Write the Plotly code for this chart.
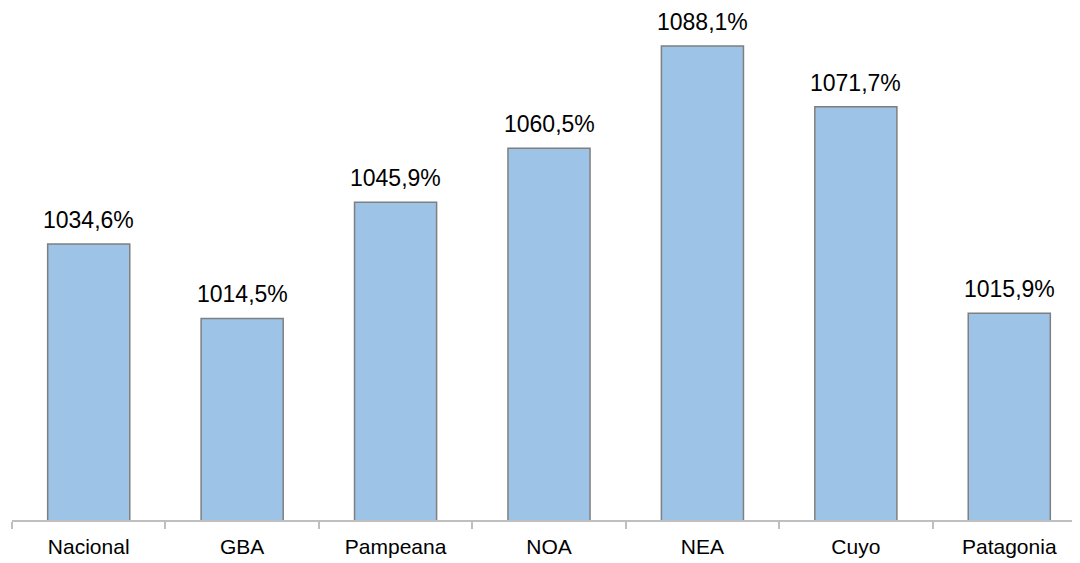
import plotly.graph_objects as go

categories = ["Nacional", "GBA", "Pampeana", "NOA", "NEA", "Cuyo", "Patagonia"]
values = [1034.6, 1014.5, 1045.9, 1060.5, 1088.1, 1071.7, 1015.9]
labels = [f"{v:.1f}".replace(".", ",") + "%" for v in values]

fig = go.Figure()
fig.add_trace(go.Bar(
    x=categories, y=values,
    marker=dict(color="#9DC3E6", line=dict(color="#7f7f7f", width=1.5)),
    hoverinfo="skip",
))
for c, v, t in zip(categories, values, labels):
    fig.add_annotation(x=c, y=v, text=t, showarrow=False, yanchor="bottom",
                       yshift=9, font=dict(family="Liberation Sans, Arial", size=23, color="#000000"))

fig.update_layout(
    width=1080, height=563,
    margin=dict(l=4, r=2, t=0, b=51),
    paper_bgcolor="white", plot_bgcolor="white",
    bargap=0.465,
    showlegend=False,
    font=dict(family="Liberation Sans, Arial", color="#000000"),
)
fig.update_xaxes(
    range=[-0.5, 6.5], showline=True, linecolor="#bfbfbf", linewidth=1.5,
    ticks="outside", tickson="boundaries", ticklen=7, tickcolor="#bfbfbf", tickwidth=1.5,
    ticklabelstandoff=7,
    tickfont=dict(size=21, family="Liberation Sans, Arial", color="#000000"),
    showgrid=False,
)
fig.update_yaxes(range=[960, 1098.4], visible=False, showgrid=False)

fig.write_html("out.html")
